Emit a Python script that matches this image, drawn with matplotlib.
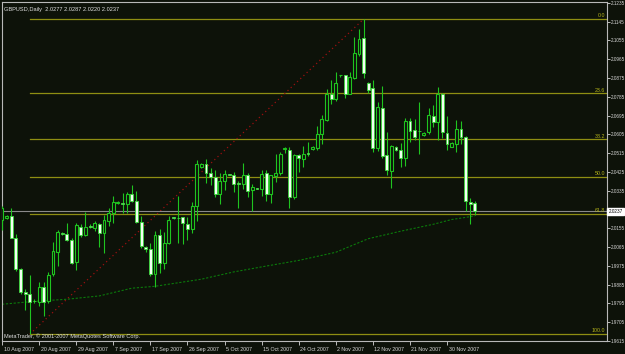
import matplotlib
matplotlib.use('Agg')
import matplotlib.pyplot as plt
import matplotlib.transforms as mtransforms

# daily GBPUSD bars (one bar per trading day incl. Sunday bars)
opens = [2.0193, 2.0206, 2.0213, 2.0110, 1.9958, 1.9852, 1.9839, 1.9806, 1.9804, 1.9876,
         1.9807, 1.9935, 2.0043, 2.0129, 2.0129, 2.0098, 1.9993, 2.0162, 2.0124, 2.0167,
         2.0154, 2.0174, 2.0130, 2.0189, 2.0229, 2.0277, 2.0277, 2.0269, 2.0320, 2.0285,
         2.0185, 2.0067, 2.0054, 1.9935, 2.0124, 1.9990, 2.0086, 2.0206, 2.0206, 2.0208,
         2.0177, 2.0150, 2.0261, 2.0449, 2.0465, 2.0421, 2.0402, 2.0317, 2.0380, 2.0413,
         2.0409, 2.0368, 2.0365, 2.0412, 2.0336, 2.0346, 2.0344, 2.0421, 2.0317, 2.0404,
         2.0421, 2.0535, 2.0532, 2.0304, 2.0505, 2.0488, 2.0513, 2.0535, 2.0540, 2.0608,
         2.0675, 2.0800, 2.0774, 2.0887, 2.0887, 2.0800, 2.0875, 2.0989, 2.1066, 2.0851,
         2.0827, 2.0540, 2.0731, 2.0505, 2.0428, 2.0543, 2.0532, 2.0492, 2.0667, 2.0624,
         2.0620, 2.0602, 2.0615, 2.0694, 2.0662, 2.0798, 2.0612, 2.0545, 2.0561, 2.0631,
         2.0593, 2.0283, 2.0277]
highs = [2.0264, 2.0219, 2.0250, 2.0126, 1.9967, 1.9863, 1.9930, 1.9815, 1.9896, 1.9896,
         1.9944, 2.0088, 2.0145, 2.0135, 2.0182, 2.0110, 2.0178, 2.0174, 2.0231, 2.0174,
         2.0189, 2.0182, 2.0217, 2.0253, 2.0309, 2.0285, 2.0325, 2.0328, 2.0360, 2.0333,
         2.0213, 2.0070, 2.0086, 2.0141, 2.0150, 2.0137, 2.0213, 2.0209, 2.0312, 2.0210,
         2.0210, 2.0280, 2.0484, 2.0470, 2.0488, 2.0445, 2.0436, 2.0421, 2.0436, 2.0417,
         2.0423, 2.0380, 2.0468, 2.0421, 2.0365, 2.0350, 2.0432, 2.0432, 2.0412, 2.0511,
         2.0519, 2.0545, 2.0545, 2.0511, 2.0511, 2.0551, 2.0567, 2.0549, 2.0643, 2.0699,
         2.0824, 2.0863, 2.0906, 2.0891, 2.0891, 2.0903, 2.1069, 2.1110, 2.1157, 2.0858,
         2.0867, 2.0758, 2.0838, 2.0615, 2.0556, 2.0551, 2.0564, 2.0684, 2.0684, 2.0680,
         2.0760, 2.0616, 2.0731, 2.0747, 2.0832, 2.0803, 2.0694, 2.0568, 2.0675, 2.0671,
         2.0596, 2.0301, 2.0287]
lows = [2.0145, 2.0200, 2.0107, 1.9950, 1.9839, 1.9762, 1.9648, 1.9796, 1.9783, 1.9735,
        1.9796, 1.9926, 1.9974, 2.0123, 2.0094, 1.9982, 1.9955, 2.0115, 2.0118, 2.0154,
        2.0141, 2.0067, 2.0038, 2.0165, 2.0182, 2.0269, 2.0229, 2.0229, 2.0280, 2.0178,
        2.0062, 2.0041, 1.9926, 1.9876, 1.9943, 1.9962, 2.0078, 2.0200, 2.0086, 2.0078,
        2.0097, 2.0130, 2.0189, 2.0446, 2.0370, 2.0360, 2.0306, 2.0269, 2.0337, 2.0408,
        2.0328, 2.0250, 2.0344, 2.0306, 2.0237, 2.0341, 2.0309, 2.0285, 2.0277, 2.0376,
        2.0412, 2.0516, 2.0250, 2.0296, 2.0423, 2.0449, 2.0500, 2.0530, 2.0529, 2.0561,
        2.0671, 2.0752, 2.0763, 2.0881, 2.0779, 2.0797, 2.0870, 2.0978, 2.0875, 2.0803,
        2.0519, 2.0524, 2.0492, 2.0409, 2.0349, 2.0525, 2.0449, 2.0452, 2.0567, 2.0580,
        2.0513, 2.0599, 2.0608, 2.0640, 2.0576, 2.0588, 2.0532, 2.0542, 2.0519, 2.0557,
        2.0237, 2.0174, 2.0220]
closes = [2.0250, 2.0213, 2.0110, 1.9958, 1.9850, 1.9839, 1.9804, 1.9805, 1.9876, 1.9804,
          1.9930, 2.0046, 2.0139, 2.0128, 2.0098, 1.9990, 2.0169, 2.0124, 2.0162, 2.0159,
          2.0182, 2.0134, 2.0197, 2.0226, 2.0280, 2.0278, 2.0271, 2.0320, 2.0288, 2.0185,
          2.0070, 2.0054, 1.9935, 2.0124, 1.9990, 2.0086, 2.0197, 2.0205, 2.0203, 2.0178,
          2.0150, 2.0261, 2.0465, 2.0465, 2.0421, 2.0402, 2.0317, 2.0380, 2.0416, 2.0412,
          2.0368, 2.0367, 2.0412, 2.0333, 2.0352, 2.0345, 2.0416, 2.0317, 2.0408, 2.0421,
          2.0511, 2.0535, 2.0304, 2.0508, 2.0490, 2.0513, 2.0512, 2.0545, 2.0605, 2.0679,
          2.0800, 2.0774, 2.0851, 2.0887, 2.0800, 2.0880, 2.0994, 2.1063, 2.0899, 2.0819,
          2.0540, 2.0734, 2.0500, 2.0433, 2.0548, 2.0532, 2.0492, 2.0667, 2.0623, 2.0593,
          2.0619, 2.0612, 2.0696, 2.0662, 2.0798, 2.0615, 2.0561, 2.0564, 2.0631, 2.0593,
          2.0285, 2.0272, 2.0237]

# slow moving average, sampled at some bars
ma_bars = [0, 7, 14, 21, 28, 33, 43, 50, 57, 64, 72, 79, 86, 93, 97, 102]
ma_values = [1.9791, 1.9805, 1.9815, 1.9831, 1.9868, 1.9877, 1.9911, 1.9946, 1.9974,
             2.0001, 2.0040, 2.0105, 2.0141, 2.0174, 2.0197, 2.0214]

date_bars = [0, 8, 16, 24, 32, 40, 48, 56, 64, 72, 80, 88, 96]
date_labels = ['10 Aug 2007', '20 Aug 2007', '29 Aug 2007', '7 Sep 2007', '17 Sep 2007',
               '26 Sep 2007', '5 Oct 2007', '15 Oct 2007', '24 Oct 2007', '2 Nov 2007',
               '12 Nov 2007', '21 Nov 2007', '30 Nov 2007']

price_ticks = [2.1235, 2.1145, 2.1055, 2.0965, 2.0875, 2.0785, 2.0695, 2.0605, 2.0515,
               2.0425, 2.0335, 2.0245, 2.0155, 2.0065, 1.9975, 1.9885, 1.9795, 1.9705, 1.9615]

fib_ratios = [0.0, 23.6, 38.2, 50.0, 61.8, 100.0]
fib_low_bar = 6
fib_high_bar = 78
bid = 2.0237

BG = '#0d1209'
GREEN = '#1fc41f'
FIB = '#8e8e12'
FONT = ['Liberation Sans Narrow', 'Liberation Sans', 'DejaVu Sans']

fig = plt.figure(figsize=(6.25, 3.54), dpi=100, facecolor=BG)
ax = fig.add_axes([2 / 625, 1 - 341 / 354, 605 / 625, 339 / 354], facecolor=BG)

# moving average
ax.plot(ma_bars, ma_values, color='#0b7a0b', lw=0.8, ls=(0, (2, 1.5)), zorder=1)

# fibonacci retracement
low = lows[fib_low_bar]
high = highs[fib_high_bar]
for r in fib_ratios:
    level = high - r / 100 * (high - low)
    ax.plot([fib_low_bar, 131], [level, level], color=FIB, lw=0.9, zorder=2)
    ax.text(130.1, level + 0.0004, f'{r:.1f}', color='#b4b41a', fontsize=3.8,
            family=FONT, ha='right', va='bottom', zorder=6)
ax.plot([fib_low_bar, fib_high_bar], [low, high], color='#9a1010', lw=0.9,
        ls=(0, (1, 2.5)), zorder=2)

# bid line
ax.axhline(bid, color='#8a8a8a', lw=0.8, zorder=2)

# candles
for i in range(len(opens)):
    o, h, l, c = opens[i], highs[i], lows[i], closes[i]
    ax.vlines(i, l, h, color=GREEN, lw=0.8, zorder=3)
    bottom = min(o, c)
    height = max(abs(c - o), 0.0003)
    if c >= o:
        ax.bar(i, height, bottom=bottom, width=0.62, facecolor=BG, edgecolor=GREEN,
               lw=0.8, zorder=4)
    else:
        ax.bar(i, height, bottom=bottom, width=0.62, facecolor='#f2fff2', edgecolor='#3ad83a',
               lw=0.6, zorder=4)

ax.set_xlim(0.07, 130.5)
ax.set_ylim(1.9619, 2.1239)

for s in ax.spines.values():
    s.set_color('#b8b8b8')
    s.set_linewidth(0.8)

ax.yaxis.tick_right()
ax.set_yticks(price_ticks)
# the 2.0245 label sits under the current price box
ax.set_yticklabels(['' if abs(p - 2.0245) < 1e-6 else f'{p:.4f}' for p in price_ticks])
ax.tick_params(axis='y', colors='#d8d8d8', labelsize=3.3, length=2, width=0.6, pad=0.8)
for t in ax.get_yticklabels():
    t.set_family(FONT)

ax.set_xticks(date_bars)
ax.set_xticklabels(date_labels, ha='left')
ax.tick_params(axis='x', colors='#d8d8d8', labelsize=3.8, length=3, width=0.6, pad=1)
for t in ax.get_xticklabels():
    t.set_family(FONT)
    t.set_transform(t.get_transform() + mtransforms.ScaledTranslation(1.5 / 100, 0, fig.dpi_scale_trans))

# current price box on the axis
trans = mtransforms.blended_transform_factory(ax.transAxes, ax.transData)
ax.text(1.0025, bid, f'{bid:.4f}', transform=trans, fontsize=3.3, family=FONT, color='black',
        ha='left', va='center', zorder=10, clip_on=False,
        bbox=dict(boxstyle='square,pad=0.25', facecolor='white', edgecolor='white'))

ax.text(0.004, 0.985, 'GBPUSD,Daily  2.0277 2.0287 2.0220 2.0237', transform=ax.transAxes,
        color='#e0e0e0', fontsize=4.1, family=FONT, ha='left', va='top')
ax.text(0.004, 0.006, 'MetaTrader, \u00a9 2001-2007 MetaQuotes Software Corp.', transform=ax.transAxes,
        color='#e0e0e0', fontsize=4.1, family=FONT, ha='left', va='bottom')

fig.savefig('out.png', dpi=100, facecolor=BG)
